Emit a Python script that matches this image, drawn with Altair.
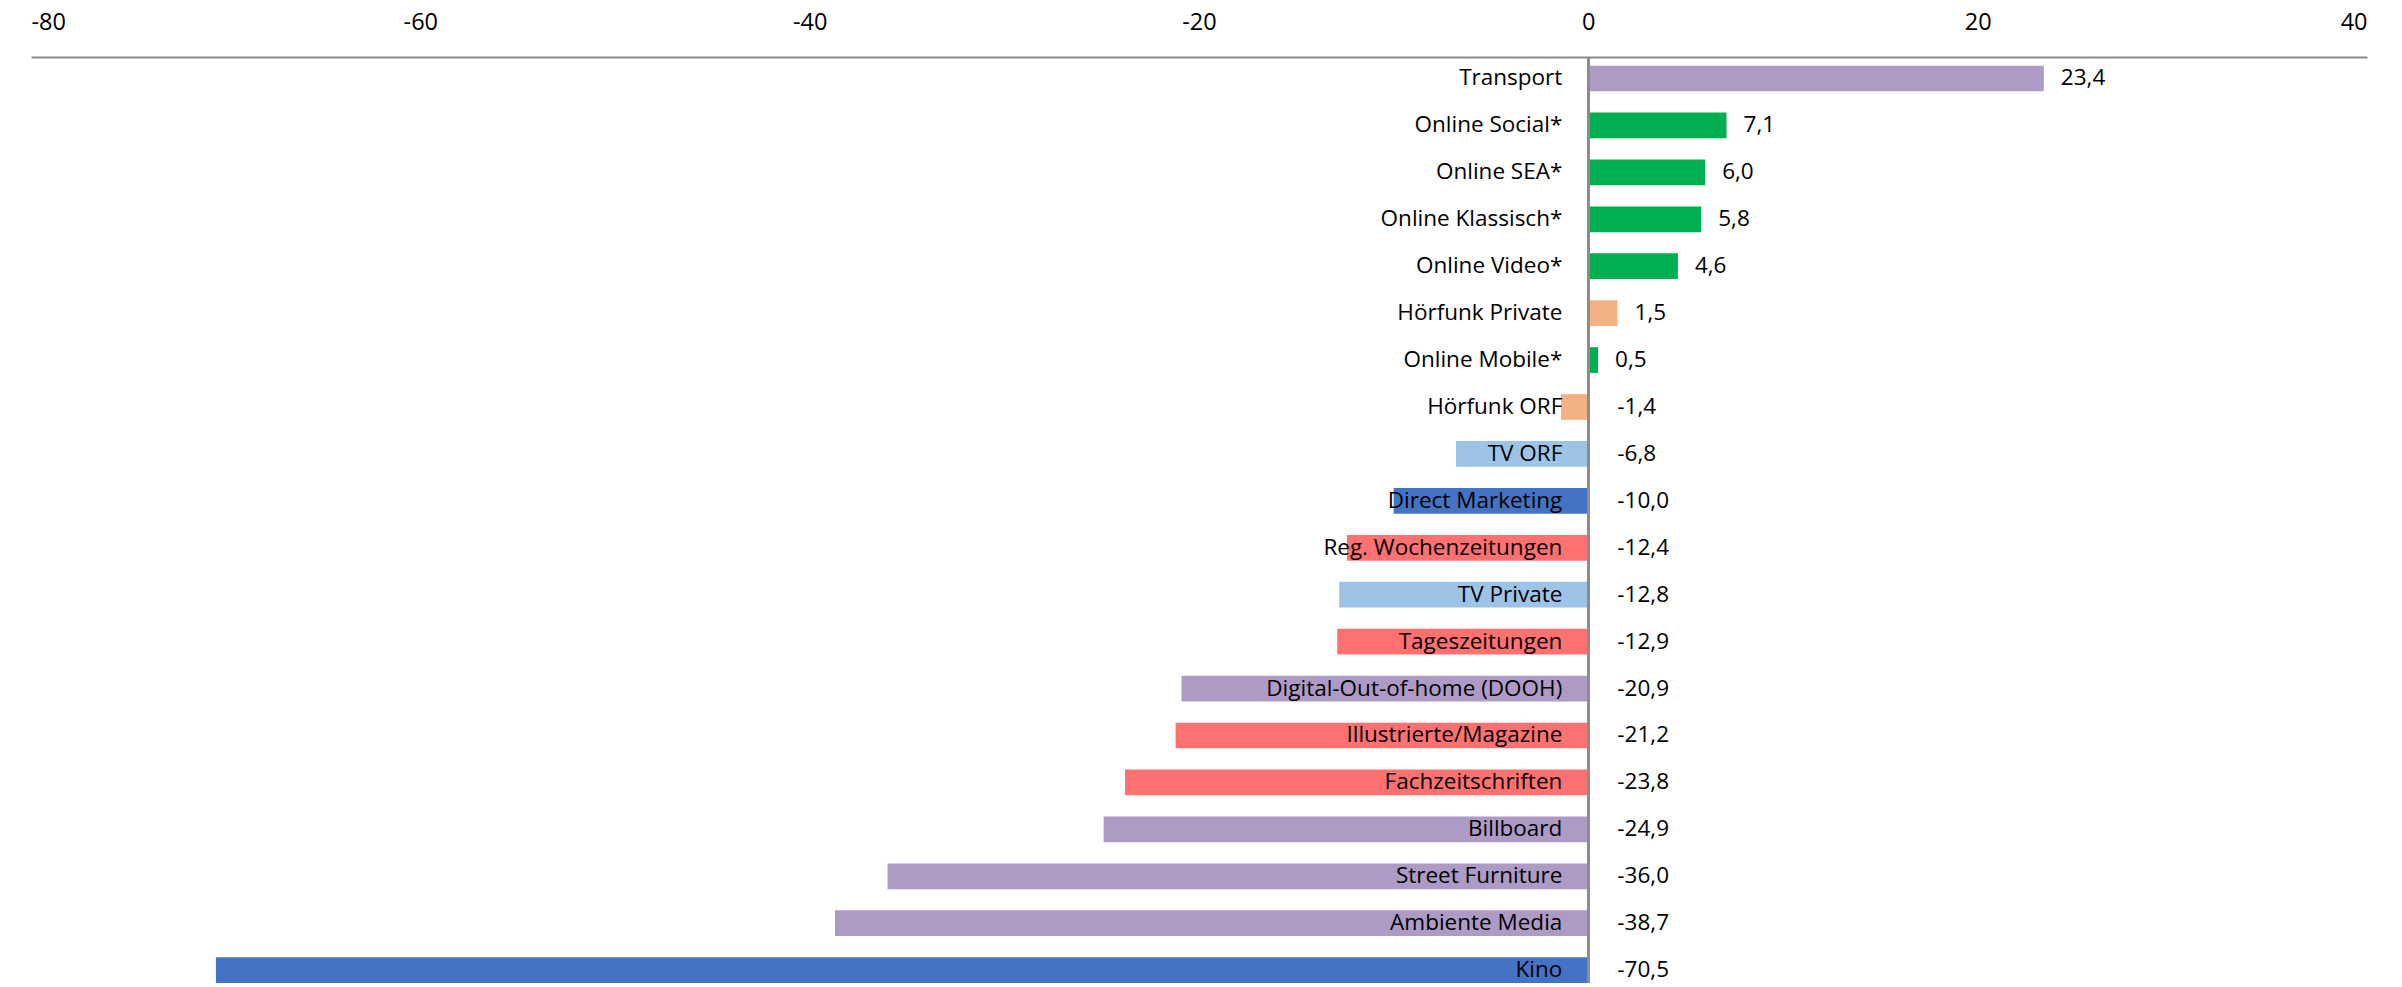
import altair as alt
import pandas as pd

# Change in advertising spend by medium, in percent
categories = [
    "Transport", "Online Social*", "Online SEA*", "Online Klassisch*",
    "Online Video*", "Hörfunk Private", "Online Mobile*", "Hörfunk ORF",
    "TV ORF", "Direct Marketing", "Reg. Wochenzeitungen", "TV Private",
    "Tageszeitungen", "Digital-Out-of-home (DOOH)", "Illustrierte/Magazine",
    "Fachzeitschriften", "Billboard", "Street Furniture", "Ambiente Media", "Kino",
]
values = [
    23.4, 7.1, 6.0, 5.8, 4.6, 1.5, 0.5, -1.4, -6.8, -10.0,
    -12.4, -12.8, -12.9, -20.9, -21.2, -23.8, -24.9, -36.0, -38.7, -70.5,
]
groups = [
    "Out-of-Home", "Online", "Online", "Online", "Online", "Radio", "Online",
    "Radio", "TV", "Blau", "Print", "TV", "Print", "Out-of-Home", "Print",
    "Print", "Out-of-Home", "Out-of-Home", "Out-of-Home", "Blau",
]
group_names = ["Out-of-Home", "Online", "Radio", "TV", "Blau", "Print"]
group_colors = ["#AE9BC5", "#00B050", "#F4B183", "#9DC3E6", "#4472C4", "#FF7171"]
x_ticks = [-80, -60, -40, -20, 0, 20, 40]

df = pd.DataFrame({"medium": categories, "change": values, "group": groups})
df["label"] = [f"{v:.1f}".replace(".", ",") for v in values]

FONT = "Open Sans"
FS = 22.5
PLOT_H = 926

x_scale = alt.Scale(domain=[-80, 40], nice=False)
y_enc = alt.Y(
    "medium:N",
    sort=categories,
    axis=None,
    scale=alt.Scale(paddingInner=0.452, paddingOuter=0.092, align=1.0),
)

x_axis = alt.Axis(
    orient="top",
    values=x_ticks,
    labelExpr="'' + datum.value",
    ticks=False,
    grid=False,
    domainColor="#898989",
    domainWidth=2,
    labelFont=FONT,
    labelFontSize=FS + 1,
    labelColor="#000000",
    labelPadding=23,
    title=None,
)

base = alt.Chart(df)

bars = base.mark_bar().encode(
    x=alt.X("change:Q", scale=x_scale, axis=x_axis),
    y=y_enc,
    color=alt.Color(
        "group:N",
        scale=alt.Scale(domain=group_names, range=group_colors),
        legend=None,
    ),
)

# vertical zero line over the whole plot height
zero_line = base.mark_rule(color="#8c8c8c", strokeWidth=2).encode(
    x=alt.datum(0)
)

names = base.mark_text(
    align="right", baseline="middle", dx=-26, font=FONT, fontSize=FS, color="#000000"
).encode(x=alt.datum(0), y=y_enc, text="medium:N")

pos_labels = base.transform_filter(alt.datum.change >= 0).mark_text(
    align="left", baseline="middle", dx=17, font=FONT, fontSize=FS, color="#000000"
).encode(x="change:Q", y=y_enc, text="label:N")

neg_labels = base.transform_filter(alt.datum.change < 0).mark_text(
    align="left", baseline="middle", dx=29, font=FONT, fontSize=FS, color="#000000"
).encode(x=alt.datum(0), y=y_enc, text="label:N")

chart = (
    alt.layer(bars, zero_line, names, pos_labels, neg_labels)
    .properties(
        width=2336,
        height=PLOT_H,
        background="#ffffff",
        autosize=alt.AutoSizeParams(type="none"),
        padding={"left": 31, "top": 57, "right": 35, "bottom": 0},
    )
    .configure_view(strokeWidth=0, stroke=None)
    .configure_axis(grid=False, ticks=False)
)

chart.save("out.html", embed_options={"renderer": "svg", "actions": False})
